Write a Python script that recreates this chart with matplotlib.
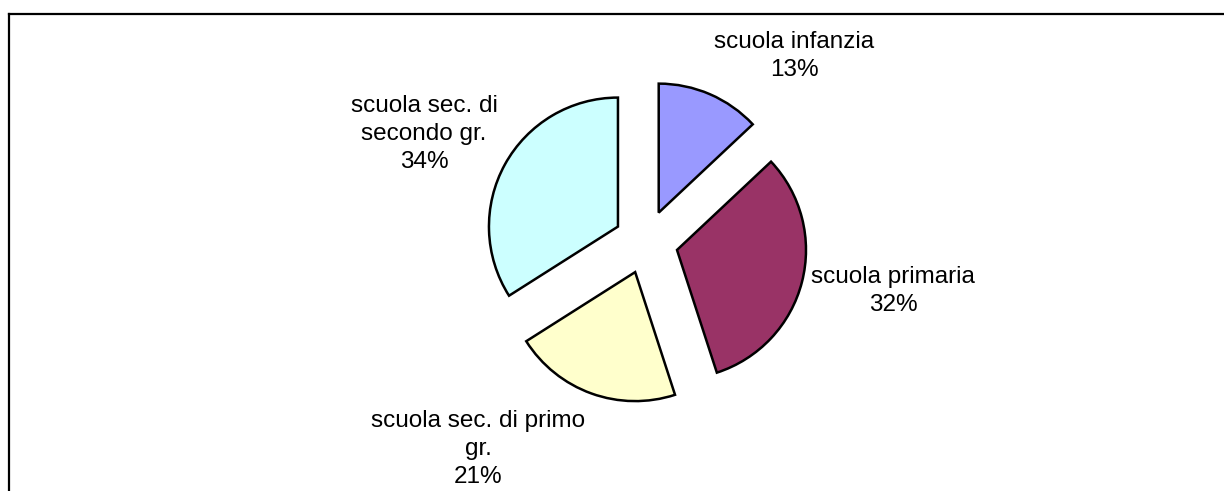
import matplotlib.pyplot as plt
from matplotlib.lines import Line2D

plt.rcParams['font.family'] = ['Liberation Sans', 'DejaVu Sans']

# data
categories = ['scuola infanzia', 'scuola primaria', 'scuola sec. di primo\ngr.',
              'scuola sec. di\nsecondo gr.']
values = [13, 32, 21, 34]
colors = ['#9999FF', '#993366', '#FFFFCC', '#CCFFFF']

# label centres in pixel coords (x, y from top)
label_pos = [(794, 56), (893, 291), (478, 449), (424, 134)]

W, H = 1224, 491
fig = plt.figure(figsize=(W / 100, H / 100), dpi=100)
ax = fig.add_axes([0, 0, 1, 1])

# explode is in data units here (pixels)
ax.pie(values, colors=colors, startangle=90, counterclock=False,
       center=(646, H - 242), radius=129, explode=[32] * len(values),
       wedgeprops=dict(edgecolor='black', linewidth=1.8), frame=True)
ax.set_xlim(0, W)
ax.set_ylim(0, H)
ax.set_aspect('equal')
ax.axis('off')

for cat, v, (x, y) in zip(categories, values, label_pos):
    ax.text(x, H - y, f'{cat}\n{v}%', ha='center', va='center',
            fontsize=17.5, linespacing=1.38, color='black')

# chart area border (runs off the right and bottom)
fig.add_artist(Line2D([8.5 / W, 8.5 / W], [0, 1 - 13.5 / H], color='black', lw=1.6,
                      transform=fig.transFigure))
fig.add_artist(Line2D([8.5 / W, 1], [1 - 13.5 / H, 1 - 13.5 / H], color='black', lw=1.6,
                      transform=fig.transFigure))

fig.savefig('out.png', dpi=100)
